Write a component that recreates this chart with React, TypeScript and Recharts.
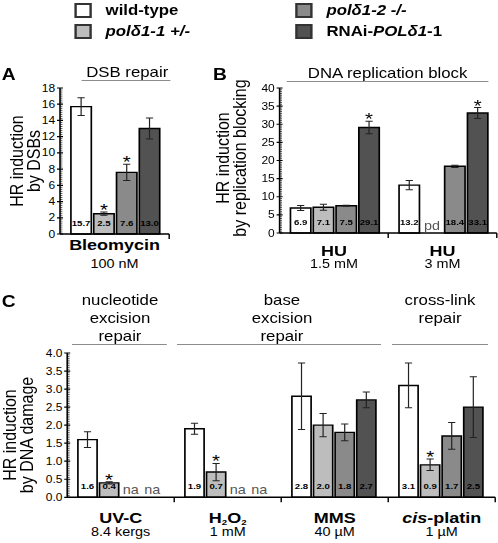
import React from 'react';
import { BarChart, Bar, XAxis, YAxis, ErrorBar, LabelList, Rectangle } from 'recharts';

// figure is drawn at 415px wide and stretched 1.2x horizontally like the original scan
const STRETCH = 1.2;
const FONT = "'Liberation Sans', Arial, sans-serif";

const seriesKeys = ['wt', 'p11', 'p12', 'rnai'];
const seriesFills = ['#ffffff', '#bdbdbd', '#8a8a8a', '#525252'];

// A - DSB repair
const dsbAgents = ['Bleomycin'];
const dsbDoses = ['100 nM'];
const dsbMeans = [[15.7, 2.5, 7.6, 13.0]];
const dsbErrors = [[1.1, 0.2, 1.0, 1.3]];
const dsbStars = [[0, 1, 1, 0]];
const dsbNotes = [['', '', '', '']];
const dsbTicks = [0, 2, 4, 6, 8, 10, 12, 14, 16, 18];

// B - DNA replication block
const huAgents = ['HU', 'HU'];
const huDoses = ['1.5 mM', '3 mM'];
const huMeans = [[6.9, 7.1, 7.5, 29.1], [13.2, null, 18.4, 33.1]];
const huErrors = [[0.7, 0.8, 0.15, 1.7], [1.3, null, 0.3, 1.5]];
const huStars = [[0, 0, 0, 1], [0, 0, 0, 1]];
const huNotes = [['', '', '', ''], ['', 'pd', '', '']];
const huTicks = [0, 5, 10, 15, 20, 25, 30, 35, 40];

// C - DNA damage
const dmgAgents = ['UV-C', 'H2O2', 'MMS', 'cis-platin'];
const dmgDoses = ['8.4 kergs', '1 mM', '40 µM', '1 µM'];
const dmgMeans = [[1.6, 0.4, null, null], [1.9, 0.7, null, null], [2.8, 2.0, 1.8, 2.7], [3.1, 0.9, 1.7, 2.5]];
const dmgErrors = [[0.22, 0.03, null, null], [0.15, 0.24, null, null], [0.92, 0.32, 0.23, 0.22], [0.62, 0.16, 0.37, 0.84]];
const dmgStars = [[0, 1, 0, 0], [0, 1, 0, 0], [0, 0, 0, 0], [0, 1, 0, 0]];
const dmgNotes = [['', '', 'na', 'na'], ['', '', 'na', 'na'], ['', '', '', ''], ['', '', '', '']];
const dmgTicks = [0, 0.5, 1.0, 1.5, 2.0, 2.5, 3.0, 3.5, 4.0];

function buildRows(agents: string[], means: (number | null)[][], errors: (number | null)[][]) {
  return agents.map((agent, i) => {
    const row: any = { agent, idx: i };
    seriesKeys.forEach((k, s) => {
      // missing bars (na / pd) get a zero bar that is not drawn, so their note keeps its slot
      row[k] = means[i][s] ?? 0;
      row[k + 'Err'] = errors[i][s];
    });
    return row;
  });
}

function withMinors(majors: number[], parts: number) {
  const out: number[] = [];
  for (let i = 0; i < majors.length - 1; i++) {
    const step = (majors[i + 1] - majors[i]) / parts;
    for (let j = 0; j < parts; j++) out.push(majors[i] + step * j);
  }
  out.push(majors[majors.length - 1]);
  return out;
}

const RulerTick = (props: any) => {
  const { x, y, payload, majors, digits } = props;
  const v = payload.value;
  const major = majors.some((m: number) => Math.abs(m - v) < 1e-6);
  if (!major) return <line x1={x} x2={x + 2} y1={y} y2={y} stroke="#000" strokeWidth={0.6} />;
  return (
    <g>
      <line x1={x - 2.5} x2={x + 2.5} y1={y} y2={y} stroke="#000" strokeWidth={1.2} />
      <text x={x - 4} y={y + 3.6} textAnchor="end" fontSize={10} fill="#000">{v.toFixed(digits)}</text>
    </g>
  );
};

function renderAgent(name: string) {
  if (name === 'H2O2') {
    return [
      <tspan key="a">H</tspan>,
      <tspan key="b" fontSize={8} dy={2}>2</tspan>,
      <tspan key="c" dy={-2}>O</tspan>,
      <tspan key="d" fontSize={8} dy={2}>2</tspan>,
    ];
  }
  if (name.startsWith('cis-')) {
    return [<tspan key="a" fontStyle="italic">cis</tspan>, <tspan key="b">{name.slice(3)}</tspan>];
  }
  return name;
}

const AgentTick = (props: any) => {
  const { x, y, payload, agents, doses, agentDy, doseDy } = props;
  const i = payload.index;
  const edge = x + (payload.offset ?? 0);
  return (
    <g>
      <line x1={edge} x2={edge} y1={y} y2={y + 5} stroke="#000" strokeWidth={1.2} />
      <text x={x} y={y + agentDy} textAnchor="middle" fontWeight="bold" fontSize={15} fill="#000">
        {renderAgent(agents[i])}
      </text>
      <text x={x} y={y + doseDy} textAnchor="middle" fontSize={12} fill="#000">{doses[i]}</text>
    </g>
  );
};

// label value is the row index, so lookups do not depend on which bars the library keeps
const makeBarLabel = (s: number, means: (number | null)[][], errors: (number | null)[][], stars: number[][], notes: string[][]) =>
  (p: any) => {
    const vb = p.viewBox ?? p;
    const x = vb.x ?? p.x;
    const y = vb.y ?? p.y;
    const width = vb.width ?? p.width;
    const height = vb.height ?? p.height ?? 0;
    const i = Number(p.value);
    const m = means[i][s];
    const cx = x + width / 2;
    const bottom = y + (height || 0);
    if (m == null) {
      if (!notes[i][s]) return null;
      return <text x={cx} y={bottom - 3} textAnchor="middle" fontSize={12} fill="#555">{notes[i][s]}</text>;
    }
    const errTop = y - ((errors[i][s] ?? 0) * height) / m;
    return (
      <g>
        <text x={cx} y={bottom - 8} textAnchor="middle" fontSize={8} fontWeight="bold" fill="#000">{m.toFixed(1)}</text>
        {stars[i][s] ? <text x={cx} y={errTop + 4} textAnchor="middle" fontSize={17} fill="#000">*</text> : null}
      </g>
    );
  };

const makeShape = (k: string) => (sp: any) =>
  sp.payload && sp.payload[k] === 0 ? <g /> : <Rectangle {...sp} />;

function Panel(props: any) {
  const { agents, doses, means, errors, stars, notes, ticks, parts, digits, width, height, left, top, agentDy, doseDy } = props;
  const rows = buildRows(agents, means, errors);
  const allTicks = withMinors(ticks, parts);
  return (
    <div style={{ position: 'absolute', left, top }}>
      <BarChart width={width} height={height} data={rows} margin={{ top: 8, right: 2, bottom: 0, left: 0 }}
        barCategoryGap="10%" barGap={2}>
        <XAxis dataKey="agent" interval={0} tickLine={false} tickSize={0} tickMargin={0} height={46}
          axisLine={{ stroke: '#000', strokeWidth: 1.5 }}
          tick={(p: any) => <AgentTick {...p} agents={agents} doses={doses} agentDy={agentDy} doseDy={doseDy} />} />
        <YAxis type="number" domain={[ticks[0], ticks[ticks.length - 1]]} ticks={allTicks} interval={0} width={30}
          tickLine={false} tickSize={0} tickMargin={0} axisLine={{ stroke: '#000', strokeWidth: 1.3 }}
          tick={(p: any) => <RulerTick {...p} majors={ticks} digits={digits} />} />
        {seriesKeys.map((k, s) => (
          <Bar key={k} dataKey={k} fill={seriesFills[s]} stroke="#000" strokeWidth={1.4} minPointSize={0.5}
            shape={makeShape(k)} isAnimationActive={false}>
            <ErrorBar dataKey={k + 'Err'} width={3} stroke="#222" strokeWidth={1} direction="y" />
            <LabelList dataKey="idx" content={makeBarLabel(s, means, errors, stars, notes)} />
          </Bar>
        ))}
      </BarChart>
    </div>
  );
}

const legendItems = [
  { x: 63, y: 4, fill: seriesFills[0], label: [{ t: 'wild-type' }] },
  { x: 63, y: 25, fill: seriesFills[1], label: [{ t: 'polδ1-1 +/-', i: true }] },
  { x: 247, y: 4, fill: seriesFills[2], label: [{ t: 'polδ1-2 -/-', i: true }] },
  { x: 247, y: 25, fill: seriesFills[3], label: [{ t: 'RNAi-' }, { t: 'POLδ1', i: true }, { t: '-1' }] },
];

export default function App() {
  const line = { stroke: '#8c8c8c', strokeWidth: 1 };
  return (
    <div style={{ position: 'absolute', left: 0, top: 0, width: 415, height: 543, background: '#fff',
      transform: `scaleX(${STRETCH})`, transformOrigin: '0 0', fontFamily: FONT }}>
      <Panel agents={dsbAgents} doses={dsbDoses} means={dsbMeans} errors={dsbErrors} stars={dsbStars} notes={dsbNotes}
        ticks={dsbTicks} parts={8} digits={0} left={20} top={80} width={123} height={200} agentDy={16} doseDy={34} />
      <Panel agents={huAgents} doses={huDoses} means={huMeans} errors={huErrors} stars={huStars} notes={huNotes}
        ticks={huTicks} parts={10} digits={0} left={203.3} top={80} width={213} height={199} agentDy={23} doseDy={35} />
      <Panel agents={dmgAgents} doses={dmgDoses} means={dmgMeans} errors={dmgErrors} stars={dmgStars} notes={dmgNotes}
        ticks={dmgTicks} parts={10} digits={1} left={25.8} top={344.7} width={388.7} height={198.3} agentDy={26} doseDy={38.5} />

      <svg width={415} height={543} style={{ position: 'absolute', left: 0, top: 0, pointerEvents: 'none' }}>
        {legendItems.map((it, n) => (
          <g key={n}>
            <rect x={it.x} y={it.y} width={12.5} height={13} fill={it.fill} stroke="#333" strokeWidth={2} />
            <text x={it.x + 25} y={it.y + 11} fontSize={14} fontWeight="bold" fill="#000">
              {it.label.map((l, j) => <tspan key={j} fontStyle={l.i ? 'italic' : 'normal'}>{l.t}</tspan>)}
            </text>
          </g>
        ))}

        <text x={1.5} y={80} fontSize={16} fontWeight="bold">A</text>
        <text x={177.5} y={80} fontSize={16} fontWeight="bold">B</text>
        <text x={1.5} y={307} fontSize={16} fontWeight="bold">C</text>

        <text x={106} y={77} fontSize={14} textAnchor="middle">DSB repair</text>
        <line x1={68} x2={142} y1={80.5} y2={80.5} {...line} />
        <text x={323} y={78} fontSize={14} textAnchor="middle">DNA replication block</text>
        <line x1={239} x2={407} y1={81.5} y2={81.5} {...line} />

        <text x={100} y={305} fontSize={14} textAnchor="middle">nucleotide</text>
        <text x={100} y={323} fontSize={14} textAnchor="middle">excision</text>
        <text x={100} y={341} fontSize={14} textAnchor="middle">repair</text>
        <line x1={60} x2={139} y1={344.5} y2={344.5} {...line} />
        <text x={235} y={305} fontSize={14} textAnchor="middle">base</text>
        <text x={235} y={323} fontSize={14} textAnchor="middle">excision</text>
        <text x={235} y={341} fontSize={14} textAnchor="middle">repair</text>
        <line x1={147.5} x2={317.5} y1={344.5} y2={344.5} {...line} />
        <text x={366.7} y={305} fontSize={14} textAnchor="middle">cross-link</text>
        <text x={366.7} y={323} fontSize={14} textAnchor="middle">repair</text>
        <line x1={326.7} x2={406.7} y1={344.5} y2={344.5} {...line} />

        <g transform="translate(19,161) rotate(-90)">
          <text x={0} y={0} fontSize={16} textAnchor="middle">HR induction</text>
          <text x={0} y={14} fontSize={16} textAnchor="middle">by DSBs</text>
        </g>
        <g transform="translate(191,158) rotate(-90)">
          <text x={0} y={0} fontSize={16} textAnchor="middle">HR induction</text>
          <text x={0} y={14} fontSize={16} textAnchor="middle">by replication blocking</text>
        </g>
        <g transform="translate(13.5,435) rotate(-90)">
          <text x={0} y={0} fontSize={16} textAnchor="middle">HR induction</text>
          <text x={0} y={14} fontSize={16} textAnchor="middle">by DNA damage</text>
        </g>
      </svg>
    </div>
  );
}
